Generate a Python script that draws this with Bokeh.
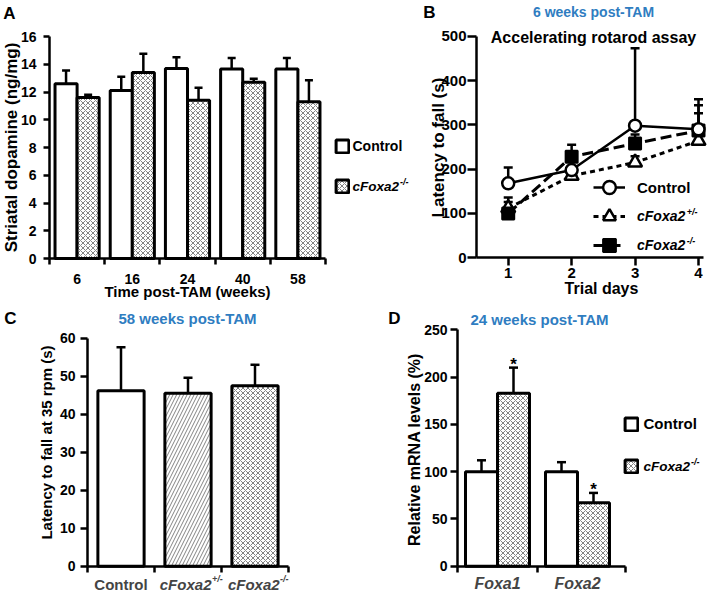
import numpy as np
from bokeh.plotting import figure
from bokeh.models import (ColumnDataSource, Range1d, FixedTicker, SingleIntervalTicker,
                          Whisker, TeeHead, Label, Legend, LegendItem, LinearAxis)
from bokeh.core.properties import value
from bokeh.embed import file_html
from bokeh.resources import INLINE

FONT = "Liberation Sans"
BLUE = "#2F7DC1"
HATCH = "#4d4d4d"

# ---------------- data ----------------
# Panel A: striatal dopamine
a_weeks = ["6", "16", "24", "40", "58"]
a_ctrl = [12.6, 12.1, 13.7, 13.65, 13.65]
a_ctrl_err = [0.95, 1.0, 0.8, 0.8, 0.8]
a_ko = [11.6, 13.4, 11.4, 12.7, 11.3]
a_ko_err = [0.2, 1.35, 0.9, 0.25, 1.55]
a_series = ["Control", "cFoxa2"]

# Panel B: accelerating rotarod
b_days = [1, 2, 3, 4]
b_ctrl = [168, 198, 298, 290]
b_ctrl_err = [36, 36, 175, 54]
b_het = [112, 185, 215, 264]
b_het_err = [14, 12, 14, 62]
b_ko = [100, 228, 258, 287]
b_ko_err = [36, 27, 20, 71]

# Panel C: latency at 35 rpm
c_groups = ["Control", "cFoxa2", "cFoxa2"]
c_sup = ["", "+/-", "-/-"]
c_vals = [46.2, 45.5, 47.5]
c_err = [11.4, 4.1, 5.5]

# Panel D: relative mRNA levels
d_genes = ["Foxa1", "Foxa2"]
d_ctrl = [100, 100]
d_ctrl_err = [12, 10]
d_ko = [183, 67]
d_ko_err = [27, 10.5]
d_sig = ["*", "*"]

# Arial-bold advance widths (em) for superscript placement
CW = {"c": .556, "F": .611, "o": .611, "x": .556, "a": .556, "2": .556,
      "+": .584, "/": .278, "-": .333, "1": .556}


def tw(s, size):
    return sum(CW.get(ch, .556) for ch in s) * size


# ---------------- one canvas, page-pixel default ranges ----------------
X0, X1, Y0, Y1 = 0, 708, 0, 594
p = figure(width=X1 - X0, height=Y1 - Y0, x_range=Range1d(X0, X1), y_range=Range1d(Y1, Y0),
           x_axis_type=None, y_axis_type=None, output_backend="svg",
           toolbar_location=None, min_border=0)
p.title.visible = False
p.outline_line_color = None
p.background_fill_color = "white"
p.border_fill_color = "white"


def lin_range(d0, d1, p0, p1, f0, f1):
    k = (d1 - d0) / (p1 - p0)
    return Range1d(d0 + (f0 - p0) * k, d0 + (f1 - p0) * k)


def panel(name, xd, xp, yd, yp):
    """xd=(data0,data1) at page xp=(px0,px1); yd=(data0,data1) at page yp=(py0,py1)."""
    p.extra_x_ranges["x" + name] = lin_range(xd[0], xd[1], xp[0], xp[1], X0, X1)
    p.extra_y_ranges["y" + name] = lin_range(yd[0], yd[1], yp[0], yp[1], Y1, Y0)
    return dict(x_range_name="x" + name, y_range_name="y" + name)


def style_axis(ax):
    ax.axis_line_width = 2.5
    ax.axis_line_color = "black"
    ax.major_tick_line_width = 2.5
    ax.major_tick_line_color = "black"
    ax.major_tick_in = 0
    ax.minor_tick_line_width = 2.5
    ax.minor_tick_in = 0
    ax.minor_tick_line_color = None
    ax.major_label_text_font = FONT
    ax.major_label_text_font_style = "bold"
    ax.major_label_text_color = "black"


def axes(rn, xbounds, ybounds, xticker, yticker):
    xa = LinearAxis(fixed_location=ybounds[0], bounds=xbounds, ticker=xticker, **rn)
    ya = LinearAxis(fixed_location=xbounds[0], bounds=ybounds, ticker=yticker, **rn)
    style_axis(xa)
    style_axis(ya)
    p.add_layout(xa, "below")
    p.add_layout(ya, "left")
    return xa, ya


def txt(px, py, text, size, style="bold", align="center", angle=0.0, color="black"):
    p.add_layout(Label(x=px, y=py, text=text, text_font=FONT, text_font_size=f"{size}px",
                       text_font_style=style, text_align=align, text_baseline="middle",
                       angle=angle, text_color=color))


def add_err(rn, x, lo, err, head=9):
    hi = list(np.add(lo, err))
    src = ColumnDataSource(dict(base=[float(v) for v in x], lower=list(lo), upper=hi))
    p.add_layout(Whisker(source=src, base="base", lower="lower", upper="upper",
                         dimension="height", line_width=2.5, line_color="black",
                         upper_head=TeeHead(size=head, line_width=2.5, line_color="black"),
                         lower_head=None, **rn))


def add_legend(renderers, label, icon_left, cy, gw, gh, standoff, size, style):
    lg = Legend(items=[LegendItem(label=label, renderers=renderers)],
                location=(icon_left - X0, Y1 - (cy + gh / 2)),
                glyph_width=int(gw), glyph_height=int(gh), label_standoff=int(round(standoff)),
                label_height=int(gh), label_width=10, padding=0, margin=0, spacing=0,
                border_line_color=None, background_fill_alpha=0,
                label_text_font=FONT, label_text_font_size=f"{size}px",
                label_text_font_style=style, label_text_baseline="middle",
                label_text_color="black")
    p.add_layout(lg)


# ---------------- Panel A ----------------
nA = len(a_weeks)
posA = np.arange(1, nA + 1)
rnA = panel("A", (0.5, nA + 0.5), (49, 325), (0, 16), (258, 36))
add_err(rnA, posA - 0.2, a_ctrl, a_ctrl_err, 8)
add_err(rnA, posA + 0.2, a_ko, a_ko_err, 8)
rAc = p.vbar(x=posA - 0.2, top=a_ctrl, width=0.4, fill_color="white",
             line_color="black", line_width=3, **rnA)
rAk = p.vbar(x=posA + 0.2, top=a_ko, width=0.4, fill_color="white",
             line_color="black", line_width=3, hatch_pattern="x", hatch_scale=5,
             hatch_color=HATCH, hatch_weight=0.7, **rnA)
xa, ya = axes(rnA, (0.5, nA + 0.5), (0, 16),
              FixedTicker(ticks=[int(v) for v in posA],
                          minor_ticks=[float(v) - 0.5 for v in posA] + [nA + 0.5]),
              SingleIntervalTicker(interval=2, num_minor_ticks=0))
xa.major_label_overrides = {int(v): w for v, w in zip(posA, a_weeks)}
xa.major_tick_line_color = None
xa.major_tick_out = 0
xa.minor_tick_line_color = "black"
xa.minor_tick_out = 6
xa.major_label_standoff = 9
xa.major_label_text_font_size = "14px"
ya.major_tick_out = 6
ya.major_label_standoff = 7
ya.major_label_text_font_size = "14px"
txt(9, 13, "A", 17)
txt(11, 147, "Striatal dopamine (ng/mg)", 17, angle=np.pi / 2)
txt(187, 291, "Time post-TAM (weeks)", 15)
add_legend([rAc], a_series[0], 333.5, 146, 16, 16, 3, 14, "bold")
add_legend([rAk], a_series[1], 333.5, 186, 16, 16, 3, 13.5, "bold italic")
txt(352 + tw("cFoxa2", 13.5) + 1, 181, "-/-", 9, style="bold italic", align="left")

# ---------------- Panel B ----------------
rnB = panel("B", (0.5, 4.0), (476, 698), (0, 500), (257.3, 35.7))
add_err(rnB, b_days, b_ctrl, b_ctrl_err, 9)
add_err(rnB, b_days, b_het, b_het_err, 9)
add_err(rnB, b_days, b_ko, b_ko_err, 9)
lc = p.line(b_days, b_ctrl, line_width=2.5, line_color="black", **rnB)
lh = p.line(b_days, b_het, line_width=3, line_color="black", line_dash="5 4", **rnB)
lk = p.line(b_days, b_ko, line_width=3, line_color="black", line_dash="11 5", **rnB)
mh = p.scatter(b_days, b_het, marker="triangle", size=14, fill_color="white",
               line_color="black", line_width=2.5, **rnB)
mk = p.scatter(b_days, b_ko, marker="square", size=12, fill_color="black",
               line_color="black", line_width=2, **rnB)
mc = p.scatter(b_days, b_ctrl, marker="circle", size=12, fill_color="white",
               line_color="black", line_width=2.5, **rnB)
xb, yb = axes(rnB, (0.5, 4.08), (0, 500), FixedTicker(ticks=b_days),
              SingleIntervalTicker(interval=100, num_minor_ticks=0))
xb.major_tick_out = 8
xb.major_label_standoff = 2
xb.major_label_text_font_size = "15px"
yb.major_tick_out = 9
yb.major_label_standoff = 1
yb.major_label_text_font_size = "15px"
txt(429, 12, "B", 17)
txt(593, 11, "6 weeks post-TAM", 14, color=BLUE)
txt(593, 37, "Accelerating rotarod assay", 16)
txt(438, 147, "Latency to fall (s)", 17, angle=np.pi / 2)
txt(601, 288, "Trial days", 16)
add_legend([lc, mc], "Control", 593, 187, 32, 32, 12, 15, "bold")
add_legend([lh, mh], "cFoxa2", 593, 216, 32, 32, 12, 14, "bold italic")
add_legend([lk, mk], "cFoxa2", 593, 245, 32, 32, 12, 14, "bold italic")
txt(637 + tw("cFoxa2", 14) + 1, 211, "+/-", 9, style="bold italic", align="left")
txt(637 + tw("cFoxa2", 14) + 1, 240, "-/-", 9, style="bold italic", align="left")

# ---------------- Panel C ----------------
nC = len(c_groups)
posC = np.arange(1, nC + 1)
rnC = panel("C", (0.5, nC + 0.5), (87, 288), (0, 60), (565.7, 337.7))
add_err(rnC, posC, c_vals, c_err, 9)
c_patterns = [" ", "/", "x"]
c_scales = [5, 7, 5]
for i in range(nC):
    p.vbar(x=[float(posC[i])], top=[c_vals[i]], width=0.69, fill_color="white",
           line_color="black", line_width=3, hatch_pattern=c_patterns[i],
           hatch_scale=c_scales[i], hatch_color=HATCH, hatch_weight=0.7, **rnC)
xc, yc = axes(rnC, (0.5, nC + 0.5), (0, 60),
              FixedTicker(ticks=[], minor_ticks=[float(v) - 0.5 for v in posC] + [nC + 0.5]),
              SingleIntervalTicker(interval=10, num_minor_ticks=0))
xc.minor_tick_line_color = "black"
xc.minor_tick_out = 6
yc.major_tick_out = 7
yc.major_label_standoff = 5
yc.major_label_text_font_size = "14px"
txt(10, 318, "C", 17)
txt(187, 318, "58 weeks post-TAM", 15, color=BLUE)
txt(46, 442, "Latency to fall at 35 rpm (s)", 15, angle=np.pi / 2)
for i in range(nC):
    if c_sup[i] == "":
        p.add_layout(Label(x=float(posC[i]), y=0, y_offset=-18, text=c_groups[i],
                           text_font=FONT, text_font_size="15px", text_font_style="bold",
                           text_align="center", text_baseline="middle", **rnC))
    else:
        total = tw(c_groups[i], 15) + tw(c_sup[i], 9)
        p.add_layout(Label(x=float(posC[i]), y=0, x_offset=-total / 2 + 3, y_offset=-18,
                           text=c_groups[i], text_font=FONT, text_font_size="15px",
                           text_font_style="bold italic", text_align="left",
                           text_baseline="middle", **rnC))
        p.add_layout(Label(x=float(posC[i]), y=0,
                           x_offset=-total / 2 + 3 + tw(c_groups[i], 15) + 0.5,
                           y_offset=-13, text=c_sup[i], text_font=FONT, text_font_size="9px",
                           text_font_style="bold italic", text_align="left",
                           text_baseline="middle", **rnC))

# ---------------- Panel D ----------------
nD = len(d_genes)
posD = np.arange(1, nD + 1)
rnD = panel("D", (0.5, nD + 0.6), (457, 625), (0, 250), (565.7, 329.3))
add_err(rnD, posD - 0.2, d_ctrl, d_ctrl_err, 9)
add_err(rnD, posD + 0.2, d_ko, d_ko_err, 9)
rDc = p.vbar(x=posD - 0.2, top=d_ctrl, width=0.4, fill_color="white",
             line_color="black", line_width=3, **rnD)
rDk = p.vbar(x=posD + 0.2, top=d_ko, width=0.4, fill_color="white",
             line_color="black", line_width=3, hatch_pattern="x", hatch_scale=5,
             hatch_color=HATCH, hatch_weight=0.7, **rnD)
p.text(x=posD + 0.2, y=np.add(d_ko, d_ko_err), text=d_sig, text_align="center",
       text_baseline="alphabetic", y_offset=-3, text_font=value(FONT), text_font_size="17px",
       text_font_style="bold", text_color="black", **rnD)
xd, yd = axes(rnD, (0.5, nD + 0.6), (0, 250),
              FixedTicker(ticks=[], minor_ticks=[float(v) - 0.5 for v in posD] + [nD + 0.6]),
              SingleIntervalTicker(interval=50, num_minor_ticks=0))
xd.minor_tick_line_color = "black"
xd.minor_tick_out = 6
yd.major_tick_out = 7
yd.major_label_standoff = 3
yd.major_label_text_font_size = "14px"
for i in range(nD):
    p.add_layout(Label(x=float(posD[i]), y=0, y_offset=-17, text=d_genes[i],
                       text_font=FONT, text_font_size="16px", text_font_style="bold italic",
                       text_align="center", text_baseline="middle", **rnD))
txt(394, 318, "D", 17)
txt(539, 319, "24 weeks post-TAM", 15, color=BLUE)
txt(414, 449, "Relative mRNA levels (%)", 16, angle=np.pi / 2)
add_legend([rDc], "Control", 622.5, 424, 16, 16, 5, 15, "bold")
add_legend([rDk], "cFoxa2", 622.5, 466, 16, 16, 5, 13.5, "bold italic")
txt(643 + tw("cFoxa2", 13.5) + 1, 461, "-/-", 9, style="bold italic", align="left")

open("out.html", "w").write(file_html(p, INLINE))
